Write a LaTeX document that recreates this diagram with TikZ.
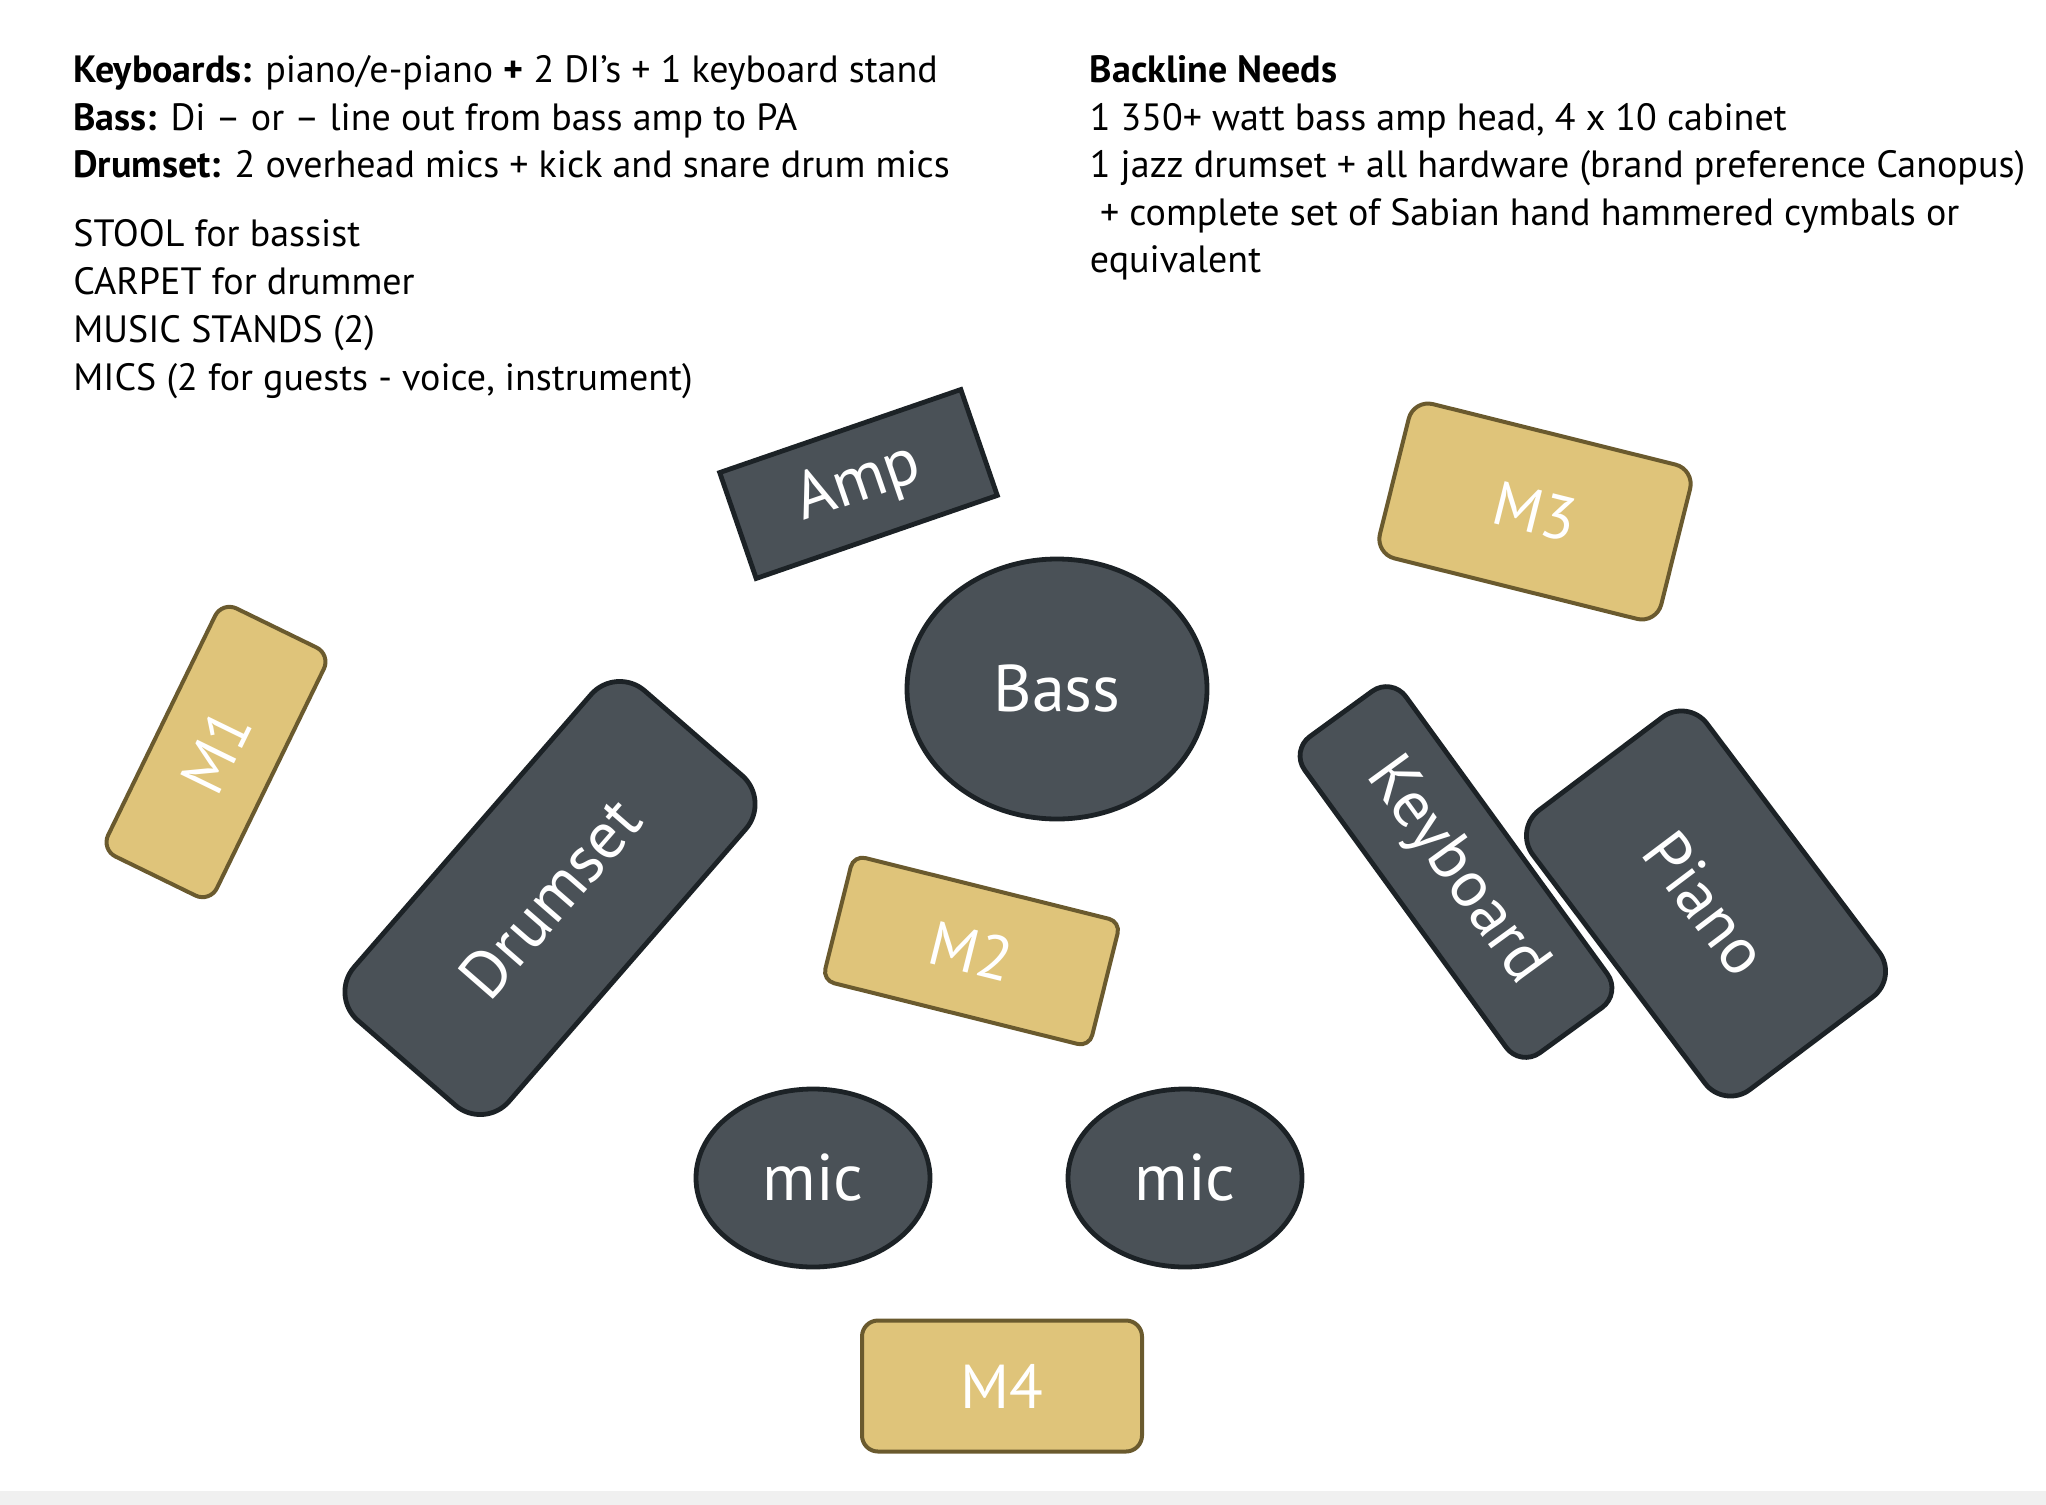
\documentclass[tikz,border=0pt]{standalone}
\usepackage{fontspec}
\setmainfont{PT Sans}
\usetikzlibrary{shapes.geometric}
\definecolor{slate}{HTML}{4A5157}
\definecolor{slateline}{HTML}{1C2226}
\definecolor{sand}{HTML}{DFC47A}
\definecolor{sandline}{HTML}{6A5A2E}
\begin{document}
\begin{tikzpicture}[x=0.5pt,y=-0.5pt,
  gear/.style={draw=slateline,fill=slate,line width=2.4pt,text=white,inner sep=0pt,
    font=\fontsize{33}{33}\selectfont},
  monitor/.style={draw=sandline,fill=sand,line width=2pt,text=white,inner sep=0pt,
    font=\fontsize{31}{31}\selectfont},
  note/.style={anchor=base west,inner sep=0pt,font=\fontsize{19}{19}\selectfont}]
\useasboundingbox (0,0) rectangle (2046,1505);
\fill[black!6] (0,1491) rectangle (2046,1505);
\node[note] (kbnote) at (73,82) {\textbf{Keyboards:} piano/e-piano \textbf{+} 2 DI’s + 1 keyboard stand};
\node[note] (bassnote) at (73,130.5) {\textbf{Bass:} Di – or – line out from bass amp to PA};
\node[note] (drumnote) at (73,177.5) {\textbf{Drumset:} 2 overhead mics + kick and snare drum mics};
\node[note] (stool) at (73,246.6) {STOOL for bassist};
\node[note] (carpet) at (73,294.5) {CARPET for drummer};
\node[note] (stands) at (73,342) {MUSIC STANDS (2)};
\node[note] (mics) at (73,390) {MICS (2 for guests - voice, instrument)};
\node[note] (backline) at (1089.5,82) {\textbf{Backline Needs}};
\node[note] (ampnote) at (1089.5,130.5) {1 350+ watt bass amp head, 4 x 10 cabinet};
\node[note] (kitnote) at (1089.5,177.5) {1 jazz drumset + all hardware (brand preference Canopus)};
\node[note] (cymnote) at (1089.5,225.7) {\ + complete set of Sabian hand hammered cymbals or};
\node[note] (equiv) at (1089.5,272.7) {equivalent};
\node[gear,minimum width=127.5pt,minimum height=56pt,rotate=19] (amp) at (858.5,484) {Amp};
\node[gear,ellipse,minimum width=150pt,minimum height=130pt] (bass) at (1057,689) {Bass};
\node[monitor,rounded corners=10pt,minimum width=145pt,minimum height=79.5pt,rotate=-14] (m3) at (1535,511.5) {M3};
\node[monitor,rounded corners=8pt,minimum width=138pt,minimum height=60.5pt,rotate=64] (m1) at (216,752) {M1};
\node[gear,rounded corners=19pt,minimum width=218.5pt,minimum height=102.5pt,rotate=49] (drums) at (550,898) {Drumset};
\node[monitor,rounded corners=6pt,minimum width=137.5pt,minimum height=64.5pt,rotate=-14] (m2) at (971.5,951) {M2};
\node[gear,rounded corners=12pt,minimum width=195.5pt,minimum height=62.5pt,rotate=-54] (keys) at (1456,872) {Keyboard};
\node[gear,rounded corners=16pt,minimum width=175pt,minimum height=109pt,rotate=-53] (piano) at (1706,903.5) {Piano};
\node[gear,ellipse,minimum width=117pt,minimum height=89pt] (micl) at (813,1178) {mic};
\node[gear,ellipse,minimum width=117pt,minimum height=89pt] (micr) at (1185,1178) {mic};
\node[monitor,rounded corners=8pt,minimum width=140pt,minimum height=65.5pt] (m4) at (1002,1386) {M4};
\end{tikzpicture}
\end{document}
